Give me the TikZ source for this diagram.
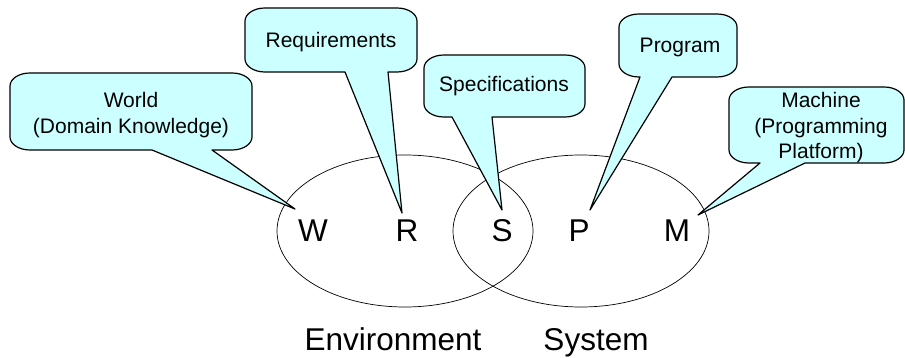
\documentclass[tikz,border=0pt]{standalone}
\usepackage{fontspec}
\setmainfont{Liberation Sans}
\usetikzlibrary{shapes.geometric}
\begin{document}
\begin{tikzpicture}[x=1pt,y=-1pt,
  callout/.style={fill=calloutfill,draw=black,line width=1.2pt,line join=round},
  venn/.style={draw=black,line width=0.7pt,ellipse,minimum width=256pt,minimum height=152pt,inner sep=0pt},
  letter/.style={anchor=base,inner sep=0pt,font=\fontsize{31.5}{36}\selectfont},
  ctext/.style={align=center,inner sep=0pt,font=\fontsize{21}{25.5}\selectfont}]
\definecolor{calloutfill}{HTML}{CCFFFF}
\useasboundingbox (0,0) rectangle (905,358);

% speech balloon: #1..#4 = left,top,right,bottom; #5,#6 = tail base x; #7 = tip
\newcommand\balloon[7]{%
  \path[callout] (#5,#4) -- #7 -- (#6,#4) -- ({#3-20},#4)
    arc[start angle=90,end angle=0,x radius=20,y radius=13] -- (#3,{#2+13})
    arc[start angle=0,end angle=-90,x radius=20,y radius=13] -- ({#1+20},#2)
    arc[start angle=270,end angle=180,x radius=20,y radius=13] -- (#1,{#4-13})
    arc[start angle=180,end angle=90,x radius=20,y radius=13] -- cycle;}

% the two overlapping sets
\node[venn] (env) at (405,231) {};
\node[venn] (sys) at (581,231) {};

% phenomena letters
\node[letter] (W) at (313,242) {W};
\node[letter] (R) at (407,242) {R};
\node[letter] (S) at (502,242) {S};
\node[letter] (P) at (579,242) {P};
\node[letter] (M) at (677,242) {M};

% tips of the balloons
\coordinate (tW) at (295,209);
\coordinate (tR) at (402,213);
\coordinate (tS) at (502,210);
\coordinate (tP) at (590,210);
\coordinate (tM) at (698,215);

\balloon{10}{73}{252}{150}{152}{212}{(tW)}
\balloon{245}{8}{417}{72}{345}{388}{(tR)}
\balloon{424}{55}{585}{117}{452}{492}{(tS)}
\balloon{619}{14}{737}{77}{640}{672}{(tP)}
\balloon{729}{87}{904}{163}{760}{805}{(tM)}

\node[ctext] (lW) at (131,115) {World\\(Domain Knowledge)};
\node[ctext] (lR) at (331,42) {Requirements};
\node[ctext] (lS) at (504,86) {Specifications};
\node[ctext] (lP) at (680,47) {Program};
\node[ctext] (lM) at (821,128) {Machine\\(Programming\\Platform)};

% set names
\node[letter] (envname) at (393,350) {Environment};
\node[letter] (sysname) at (596,350) {System};
\end{tikzpicture}
\end{document}
